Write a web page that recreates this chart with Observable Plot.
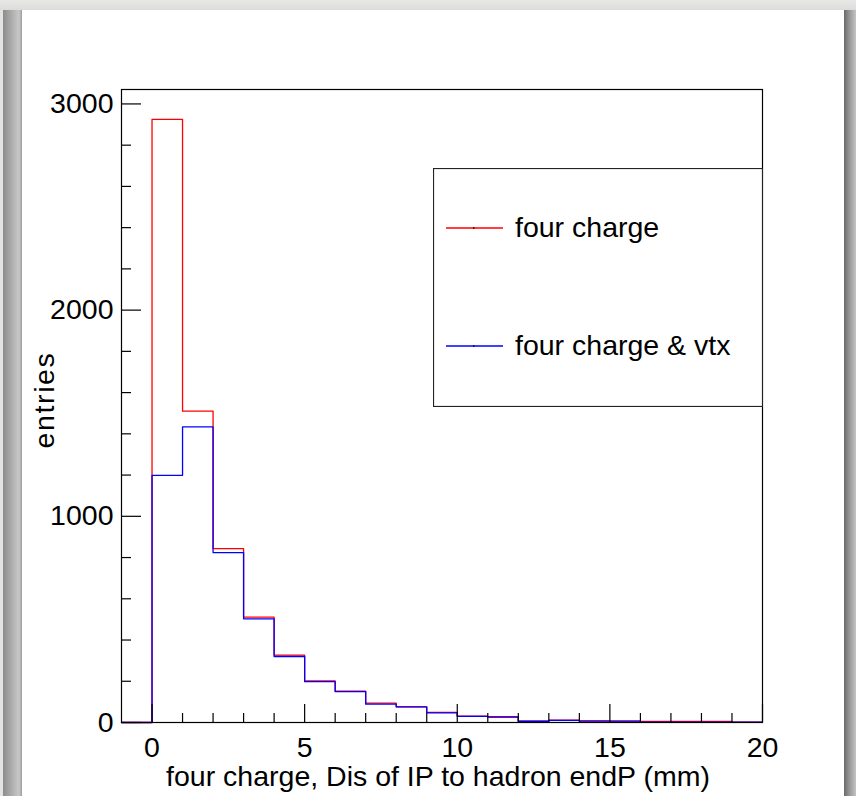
<!DOCTYPE html>
<html>
<head>
<meta charset="utf-8">
<script src="https://cdn.jsdelivr.net/npm/d3@7"></script>
<script src="https://cdn.jsdelivr.net/npm/@observablehq/plot@0.6"></script>
<style>
  html, body { margin: 0; padding: 0; }
  body { width: 856px; height: 796px; position: relative; overflow: hidden;
         background: #e3e3e1; font-family: "Liberation Sans", Arial, Helvetica, sans-serif; }
  #panel { position: absolute; left: 22px; top: 10px; width: 822px; height: 800px; background: #fff; }
  #shadowL { position: absolute; left: 3px; top: 10px; width: 19px; height: 800px;
             background: linear-gradient(to right, #8c8c8c, #b4b4b4 55%, #c8c8c8 85%, #9a9a9a); }
  #shadowR { position: absolute; left: 844px; top: 10px; width: 12px; height: 800px;
             background: linear-gradient(to right, #6a6a6a, #9c9c9c 50%, #c4c4c4); }
  #topband { position: absolute; left: 0; top: 0; width: 856px; height: 10px;
             background: linear-gradient(to bottom, #e8e8e6, #dcdcda); }
  #chart { position: absolute; left: 0; top: 0; }
  #legend { position: absolute; left: 433px; top: 168px; }
</style>
</head>
<body>
<div id="topband"></div>
<div id="shadowL"></div>
<div id="shadowR"></div>
<div id="panel"></div>
<div id="chart"></div>
<div id="legend"></div>
<script>
// Histogram: 1 mm bins from -1 to 20
const binLow = [-1, 0, 1, 2, 3, 4, 5, 6, 7, 8, 9, 10, 11, 12, 13, 14, 15, 16, 17, 18, 19];
const binWidth = 1;
const fourCharge    = [0, 2925, 1510, 843, 511, 327, 202, 152, 94, 76, 49, 31, 28, 7, 11, 8, 7, 5, 5, 5, 2];
const fourChargeVtx = [0, 1199, 1434, 824, 503, 320, 198, 150, 89, 76, 47, 30, 26, 6, 10, 7, 7, 2, 2, 2, 2];
const seriesNames = ["four charge", "four charge & vtx"];
const seriesColors = ["#ff0000", "#0000ff"];
const xMajorTicks = [0, 5, 10, 15, 20];
const xMinorTicks = [1, 2, 3, 4, 6, 7, 8, 9, 11, 12, 13, 14, 16, 17, 18, 19];
const yMajorTicks = [0, 1000, 2000, 3000];
const yMinorTicks = [200, 400, 600, 800, 1200, 1400, 1600, 1800, 2200, 2400, 2600, 2800];
const xTitle = "four charge, Dis of IP to hadron endP (mm)";
const yTitle = "entries";

function steps(values) {
  const pts = binLow.map((x, i) => ({x, y: values[i]}));
  pts.push({x: binLow[binLow.length - 1] + binWidth, y: values[values.length - 1]});
  return pts;
}

const font = "'Liberation Sans', Arial, Helvetica, sans-serif";

const chart = Plot.plot({
  width: 856,
  height: 796,
  marginLeft: 121,
  marginRight: 94,
  marginTop: 89,
  marginBottom: 74,
  style: {background: "transparent", fontFamily: font, color: "#000", overflow: "visible"},
  x: {domain: [-1, 20], label: null},
  y: {domain: [0, 3070], label: null},
  marks: [
    Plot.line(steps(fourCharge), {x: "x", y: "y", curve: "step-after", stroke: seriesColors[0], strokeWidth: 1.3}),
    Plot.line(steps(fourChargeVtx), {x: "x", y: "y", curve: "step-after", stroke: seriesColors[1], strokeWidth: 1.3}),
    Plot.axisY({ticks: yMajorTicks, tickSize: -20, text: null, label: null, stroke: "#000", strokeWidth: 1.2}),
    Plot.axisY({ticks: yMinorTicks, tickSize: -10, text: null, label: null, stroke: "#000", strokeWidth: 1.2}),
    Plot.axisY({ticks: yMajorTicks, tickSize: 0, tickPadding: 8, tickFormat: d => String(d), fontSize: 28.5, label: null}),
    Plot.axisX({ticks: xMajorTicks, tickSize: -18, text: null, label: null, stroke: "#000", strokeWidth: 1.2}),
    Plot.axisX({ticks: xMinorTicks, tickSize: -9, text: null, label: null, stroke: "#000", strokeWidth: 1.2}),
    Plot.axisX({ticks: xMajorTicks, tickSize: 0, tickPadding: 14, tickFormat: d => String(d), fontSize: 28.5, label: null}),
    Plot.frame({stroke: "#000", strokeWidth: 1.2}),
    Plot.text([xTitle], {frameAnchor: "bottom", dy: 54, dx: -4, fontSize: 28.5, textAnchor: "middle", lineAnchor: "middle"}),
    Plot.text([yTitle], {frameAnchor: "left", dx: -77, dy: -6, rotate: -90, fontSize: 28.5, textAnchor: "middle", lineAnchor: "middle"})
  ]
});
document.getElementById("chart").appendChild(chart);

// widen letter spacing of y title as in the reference
chart.querySelectorAll("text").forEach(t => { if (t.textContent === yTitle) t.style.letterSpacing = "1.6px"; });

// Legend (ROOT TLegend style box)
const lw = 330, lh = 239;
const svg = d3.select("#legend").append("svg")
  .attr("width", lw).attr("height", lh)
  .style("display", "block");
svg.append("rect").attr("x", 0.5).attr("y", 0.5).attr("width", lw - 1).attr("height", lh - 1)
  .attr("fill", "#fff").attr("stroke", "#222").attr("stroke-width", 1.2);
const rowY = [60, 178];
seriesNames.forEach((name, i) => {
  const g = svg.append("g").attr("transform", `translate(0,${rowY[i]})`);
  g.append("line").attr("x1", 13).attr("x2", 70).attr("y1", 0).attr("y2", 0)
    .attr("stroke", seriesColors[i]).attr("stroke-width", 1.4);
  g.append("rect").attr("x", 40).attr("y", -0.7).attr("width", 1.5).attr("height", 1.4).attr("fill", "#000");
  g.append("text").attr("x", 82).attr("y", 0).attr("dy", "0.32em")
    .attr("font-family", font).attr("font-size", 28.5).attr("fill", "#000")
    .text(name);
});
</script>
</body>
</html>
